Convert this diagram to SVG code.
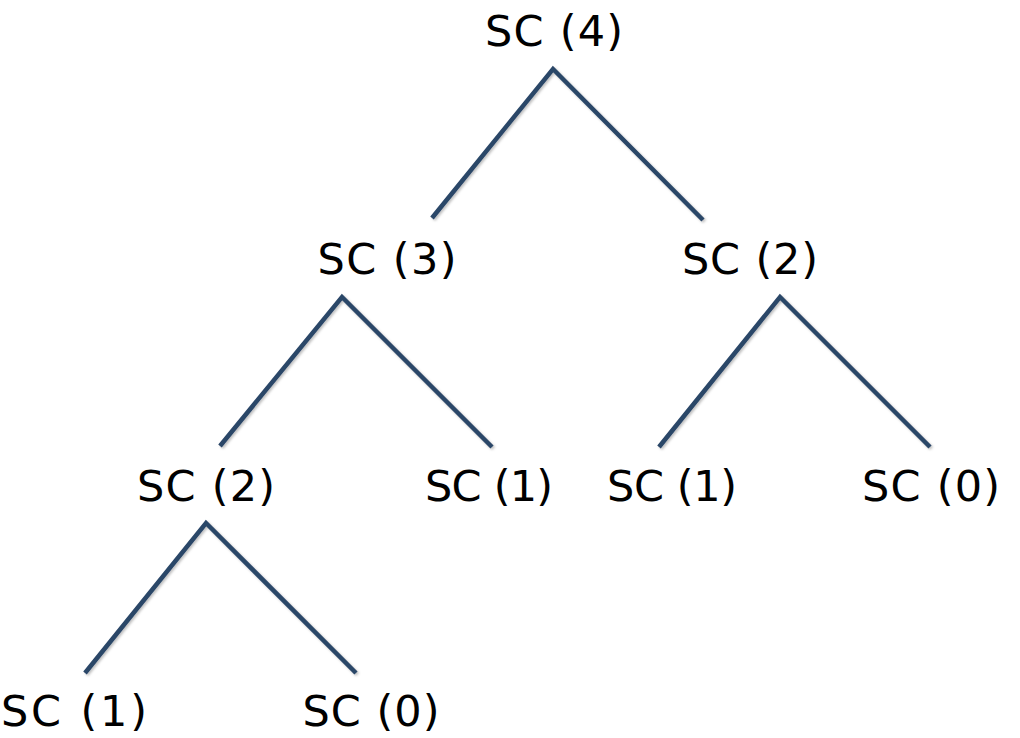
<svg xmlns="http://www.w3.org/2000/svg" width="1020" height="738" viewBox="0 0 1020 738">
  <style>
    .lbl { font-family: "Comic Sans MS", "DejaVu Sans", sans-serif; font-size: 43px; fill: #000; text-anchor: middle; }
    .edge { stroke: #2B4667; stroke-width: 4.5; fill: none; stroke-linecap: butt; }
  </style>
  <defs>
    <filter id="soft" x="-10%" y="-10%" width="120%" height="120%">
      <feDropShadow dx="1.5" dy="1.5" stdDeviation="1" flood-color="#000" flood-opacity="0.25"/>
    </filter>
  </defs>
  <rect width="1020" height="738" fill="#fff"/>

  <!-- tree edges -->
  <g id="connectors" filter="url(#soft)">
    <polyline class="edge" points="432,218 553,69 703,220"/>
    <polyline class="edge" points="220,446 342,297 492,447"/>
    <polyline class="edge" points="659,447 780,297 930,447"/>
    <polyline class="edge" points="85,673 206,523 356,673"/>
  </g>

  <!-- call nodes -->
  <g id="n-sc4"><text class="lbl" x="554" y="46" textLength="138" lengthAdjust="spacing">SC (4)</text></g>
  <g id="n-sc3"><text class="lbl" x="387" y="274" textLength="139" lengthAdjust="spacing">SC (3)</text></g>
  <g id="n-sc2r"><text class="lbl" x="750" y="274" textLength="136" lengthAdjust="spacing">SC (2)</text></g>
  <g id="n-sc2l"><text class="lbl" x="206" y="501" textLength="138" lengthAdjust="spacing">SC (2)</text></g>
  <g id="n-sc1m"><text class="lbl" x="489" y="501" textLength="128" lengthAdjust="spacing">SC (1)</text></g>
  <g id="n-sc1r"><text class="lbl" x="672" y="501" textLength="130" lengthAdjust="spacing">SC (1)</text></g>
  <g id="n-sc0r"><text class="lbl" x="931" y="501" textLength="138" lengthAdjust="spacing">SC (0)</text></g>
  <g id="n-sc1b"><text class="lbl" x="74" y="726" textLength="146" lengthAdjust="spacing">SC (1)</text></g>
  <g id="n-sc0b"><text class="lbl" x="371" y="726" textLength="137" lengthAdjust="spacing">SC (0)</text></g>
</svg>
